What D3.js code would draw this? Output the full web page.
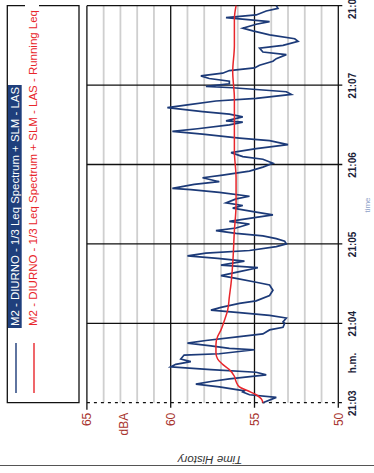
<!DOCTYPE html>
<html>
<head>
<meta charset="utf-8">
<script src="https://cdn.jsdelivr.net/npm/d3@7"></script>
<style>
  body { margin: 0; background: #fff; }
  svg { display: block; }
  text { font-family: "Liberation Sans", Arial, sans-serif; }
</style>
</head>
<body>
<svg id="chart" width="374" height="473"></svg>
<script>
// LAS time history, seconds after 21:03:00 and level in dBA
const lasSeconds = [0,4,6,8,9,12,14,16,18,21,23,25,27,29,31,33,36,37,40,41,43,45,47,50,52,55,57,60,
  61,64,66,68,70,72,75,77,81,85,89,91,94,96,99,102,104,107,109,111,113,115,118,120,
  122,124,126,128,130,132,135,137,140,142,144,147,149,151,154,156,159,161,162,165,167,170,172,175,178,181,
  184,186,189,192,195,198,200,203,205,207,210,212,213,216,218,220,223,225,228,230,233,235,238,239,241,
  243,245,247,249,251,253,255,258,260,263,265,268,270,273,275,278,281,283,286,288,291,293,296,298,300];
const lasValues = [54.5,53.7,55.3,55.7,55.6,57.1,58.5,57.6,56.5,54.3,54.9,57.6,60.0,59.7,58.8,59.4,59.2,57.1,55.0,56.5,57.6,59.0,57.9,55.9,54.5,54.1,53.3,53.2,
  53.3,53.1,54.1,55.9,57.6,57.0,55.9,54.9,54.1,53.9,54.1,54.9,56.1,57.0,55.9,54.8,57.0,55.6,57.2,59.0,57.9,55.3,53.7,53.1,
  53.2,53.7,54.5,56.1,57.3,56.1,55.3,56.5,54.9,53.9,54.9,56.3,55.7,56.7,56.1,55.3,57.1,58.8,59.9,58.6,57.1,58.1,56.9,55.3,54.5,53.9,
  54.5,55.7,56.4,54.9,53.0,54.1,55.9,58.1,59.9,58.4,56.5,55.7,56.7,55.7,56.5,58.1,60.2,59.0,57.3,54.9,52.8,53.1,56.3,57.9,56.5,
  56.5,57.7,58.2,56.9,56.5,55.0,54.7,53.9,53.7,53.1,54.5,54.7,53.3,52.4,52.6,54.1,55.1,55.7,54.9,54.1,56.7,54.9,54.3,53.6,53.7];

// Running Leq of the same measurement
const leqSeconds = [0,3,6,9,12,16,20,25,29,33,38,44,50,55,62,70,80,90,105,130,150,170,190,210,230,250,270,290,300];
const leqValues = [54.5,54.6,54.9,55.4,55.9,56.1,56.2,56.5,56.9,57.2,57.3,57.3,57.2,57.0,56.8,56.6,56.5,56.4,56.3,56.2,56.1,56.1,56.2,56.2,56.2,56.3,56.2,56.2,56.1];

const levelTicks = [65, 60, 55, 50];
const levelGrid = [64, 63, 62, 61, 59, 58, 57, 56, 54, 53, 52, 51];
const minuteTicks = ["21:03", "21:04", "21:05", "21:06", "21:07", "21:08"];
const legendLabels = [
  "M2 - DIURNO - 1/3 Leq Spectrum + SLM - LAS",
  "M2 - DIURNO - 1/3 Leq Spectrum + SLM - LAS - Running Leq"
];

const svg = d3.select("#chart");
const parseMinute = d3.timeParse("%H:%M");
const t0 = parseMinute(minuteTicks[0]);
const t1 = parseMinute(minuteTicks[minuteTicks.length - 1]);
const atSecond = s => new Date(t0.getTime() + s * 1000);

// level runs right-to-left along the bottom, time runs bottom-to-top
const x = d3.scaleLinear().domain([50, 65]).range([338.3, 86.9]);
const y = d3.scaleTime().domain([t0, t1]).range([402.7, 5.7]);
const yTop = y(t1), yBottom = y(t0);

const NAVY = "#1c3a78", RED = "#e8262b", LABEL_RED = "#a8342e";

// minor level grid
svg.append("g").selectAll("line").data(levelGrid).join("line")
  .attr("x1", d => x(d)).attr("x2", d => x(d))
  .attr("y1", yTop).attr("y2", yBottom)
  .attr("stroke", "#cfcfcf").attr("stroke-width", 1.8);

// major level lines (also the plot's left and right edges)
svg.append("g").selectAll("line").data(levelTicks).join("line")
  .attr("x1", d => x(d)).attr("x2", d => x(d))
  .attr("y1", yTop).attr("y2", d => d === 65 ? yBottom + 7 : yBottom + 5)
  .attr("stroke", "#111").attr("stroke-width", 1.3);

// minute lines
const minuteDates = minuteTicks.map(parseMinute);
svg.append("g").selectAll("line").data(minuteDates.slice(1)).join("line")
  .attr("x1", x(65)).attr("x2", x(50) + 4)
  .attr("y1", d => y(d)).attr("y2", d => y(d))
  .attr("stroke", "#111").attr("stroke-width", 1.3);
svg.append("line")
  .attr("x1", x(65)).attr("x2", x(50) + 4)
  .attr("y1", yBottom).attr("y2", yBottom)
  .attr("stroke", "#111").attr("stroke-width", 1.3)
  .attr("stroke-dasharray", "3,4");

// data lines
const lasLine = d3.line()
  .x((d, i) => x(lasValues[i]))
  .y(d => y(atSecond(d)));
svg.append("path").datum(lasSeconds)
  .attr("d", lasLine)
  .attr("fill", "none").attr("stroke", NAVY)
  .attr("stroke-width", 1.7).attr("stroke-linejoin", "miter");

const leqLine = d3.line()
  .x((d, i) => x(leqValues[i]))
  .y(d => y(atSecond(d)))
  .curve(d3.curveMonotoneY);
svg.append("path").datum(leqSeconds)
  .attr("d", leqLine)
  .attr("fill", "none").attr("stroke", RED).attr("stroke-width", 1.5);

// level axis labels along the bottom
const levelAxis = d3.axisBottom(x).tickValues(levelTicks).tickSize(0).tickPadding(0);
const gl = svg.append("g").attr("transform", `translate(0,${yBottom})`).call(levelAxis);
gl.select(".domain").remove();
gl.selectAll("text")
  .attr("y", null).attr("dy", null)
  .attr("transform", "translate(0,10) rotate(-90)")
  .attr("text-anchor", "end")
  .attr("dominant-baseline", "central")
  .attr("fill", LABEL_RED)
  .style("font-size", "12px");
svg.append("text")
  .attr("transform", `translate(124,${yBottom + 10}) rotate(-90)`)
  .attr("text-anchor", "end").attr("dominant-baseline", "central")
  .attr("fill", LABEL_RED).style("font-size", "12px")
  .text("dBA");

// time axis labels on the right
const timeAxis = d3.axisRight(y).tickValues(minuteDates)
  .tickFormat(d3.timeFormat("%H:%M")).tickSize(0).tickPadding(0);
const gt = svg.append("g").attr("transform", `translate(${x(50)},0)`).call(timeAxis);
gt.select(".domain").remove();
gt.selectAll("text")
  .attr("x", null).attr("dy", null)
  .attr("transform", "translate(14,0) rotate(-90)")
  .attr("text-anchor", "middle")
  .attr("dominant-baseline", "central")
  .attr("fill", "#1c2238")
  .style("font-size", "10px").style("font-weight", "bold");
svg.append("text")
  .attr("transform", `translate(${x(50) + 14},363) rotate(-90)`)
  .attr("text-anchor", "middle").attr("dominant-baseline", "central")
  .attr("fill", "#1c2238").style("font-size", "10px").style("font-weight", "bold")
  .text("h.m.");
svg.append("text")
  .attr("transform", `translate(367,205) rotate(-90)`)
  .attr("text-anchor", "middle").attr("dominant-baseline", "central")
  .attr("fill", "#8ea2c8").style("font-size", "8px")
  .text("time");

// legend panel
const lg = svg.append("g");
const lx0 = 7.3, lx1 = 79, ly0 = yTop, ly1 = yBottom;
lg.append("path")
  .attr("d", `M25,${ly0} H${lx0} V${ly1} H${lx1} V${ly0} H39`)
  .attr("fill", "none").attr("stroke", "#111").attr("stroke-width", 1.3);
lg.append("rect")
  .attr("x", 8).attr("y", 85).attr("width", 13.7).attr("height", 243)
  .attr("fill", "#1f3f7c");
const legendColors = [NAVY, RED];
const legendX = [16, 34];
legendLabels.forEach((label, i) => {
  lg.append("line")
    .attr("x1", legendX[i]).attr("x2", legendX[i])
    .attr("y1", 343).attr("y2", 393)
    .attr("stroke", legendColors[i]).attr("stroke-width", 1.4);
  lg.append("text")
    .attr("transform", `translate(${legendX[i] - 1},326) rotate(-90)`)
    .attr("dominant-baseline", "central")
    .attr("fill", i === 0 ? "#ffffff" : RED)
    .attr("textLength", i === 0 ? 239 : 316)
    .attr("lengthAdjust", "spacingAndGlyphs")
    .style("font-size", "10.5px")
    .text(label);
});

// footer
svg.append("text")
  .attr("transform", "translate(210,456) rotate(180)")
  .attr("text-anchor", "middle")
  .attr("fill", "#333").style("font-size", "11.5px").style("font-style", "italic")
  .text("Time History");
svg.append("line")
  .attr("x1", 0).attr("x2", 374).attr("y1", 465.5).attr("y2", 465.5)
  .attr("stroke", "#555").attr("stroke-width", 1.2);
</script>
</body>
</html>
